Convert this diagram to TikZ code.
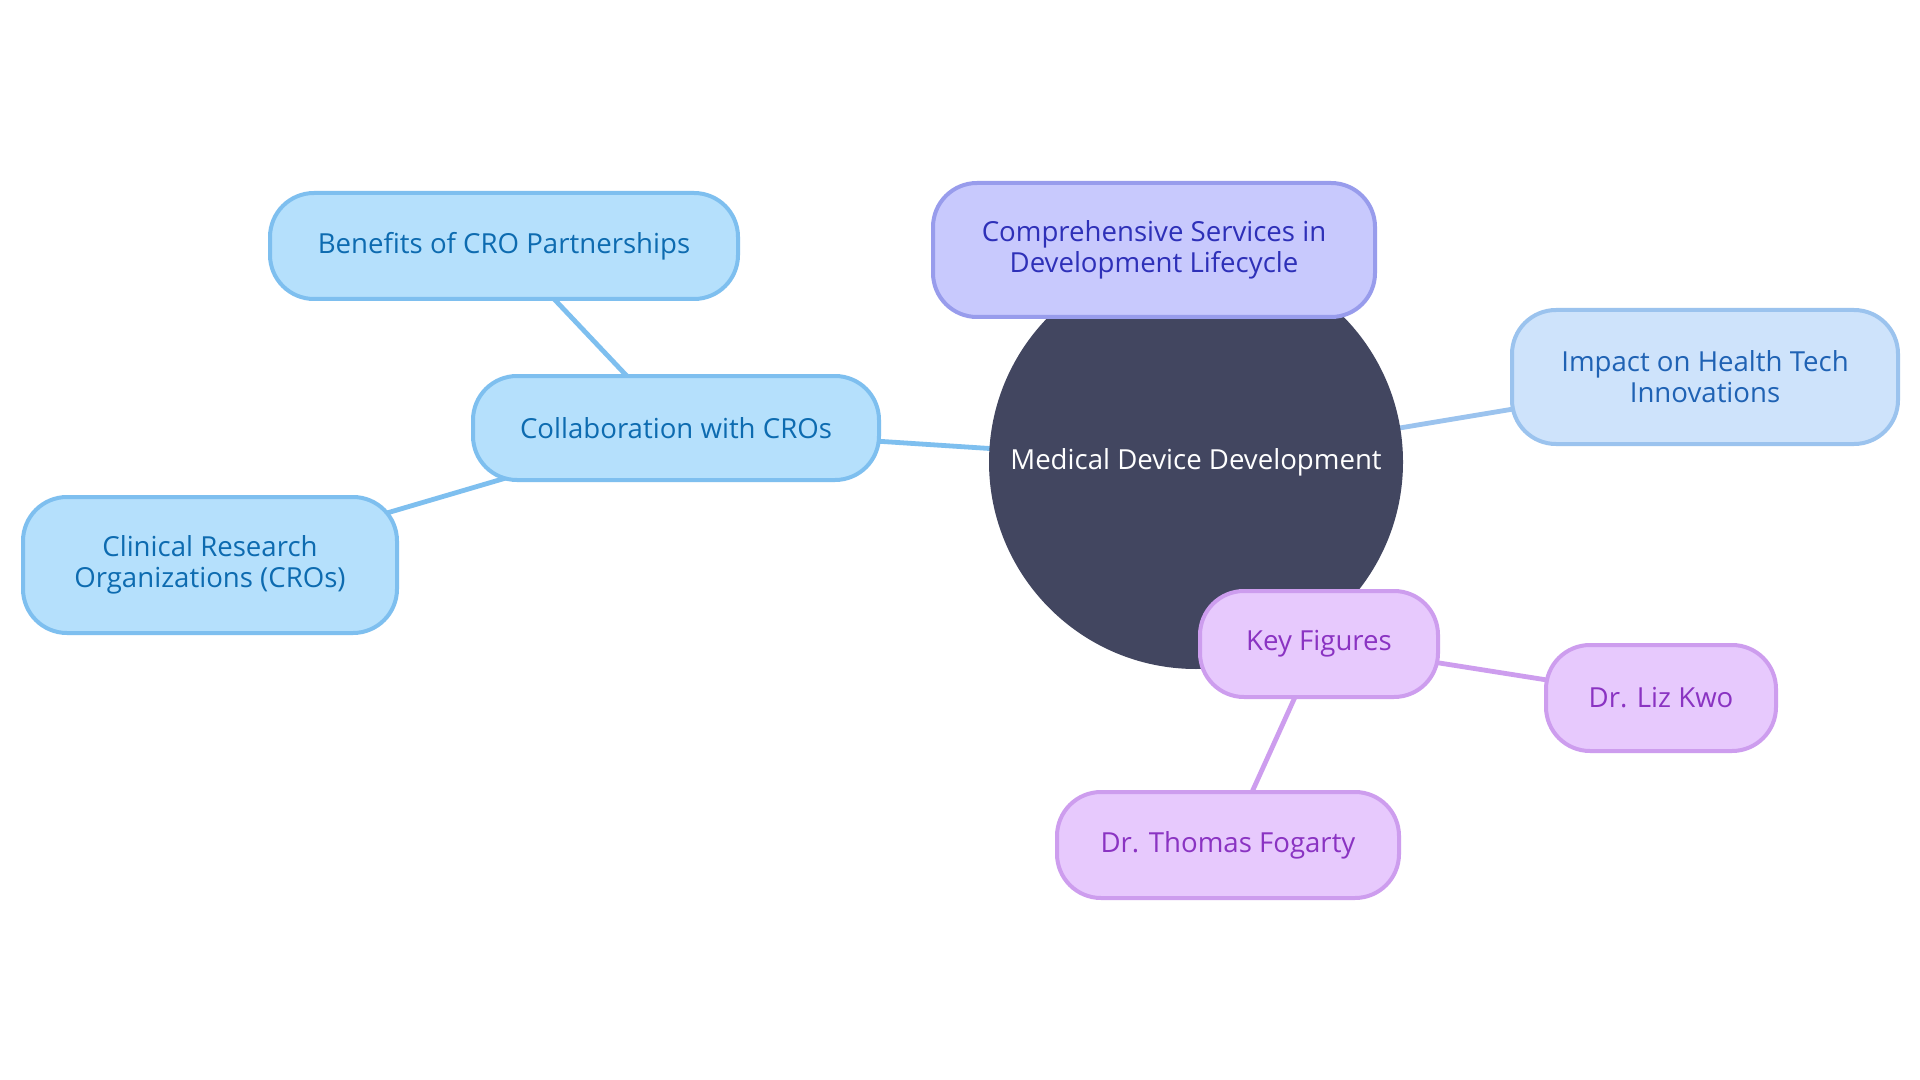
\documentclass[tikz,border=0pt]{standalone}
\usepackage{fontspec}
\setmainfont{Open Sans}
\definecolor{bfill}{HTML}{B5E0FC}
\definecolor{bline}{HTML}{7EBFEF}
\definecolor{btext}{HTML}{0D6BB0}
\definecolor{cfill}{HTML}{C8C9FD}
\definecolor{cline}{HTML}{989CEC}
\definecolor{ctext}{HTML}{2E30B8}
\definecolor{ifill}{HTML}{CEE3FB}
\definecolor{iline}{HTML}{9BC3EE}
\definecolor{itext}{HTML}{1F62B4}
\definecolor{pfill}{HTML}{E7C9FD}
\definecolor{pline}{HTML}{CD9DEE}
\definecolor{ptext}{HTML}{8A33C2}
\definecolor{hub}{HTML}{424660}
\tikzset{
  box/.style={rounded corners=22pt, line width=2pt, align=center,
    font=\fontsize{13.8}{15.4}\selectfont, inner sep=0pt},
  bluebox/.style={box, fill=bfill, draw=bline, text=btext},
  violetbox/.style={box, fill=cfill, draw=cline, text=ctext},
  paleblue/.style={box, fill=ifill, draw=iline, text=itext},
  purplebox/.style={box, fill=pfill, draw=pline, text=ptext},
  link/.style={line width=2.4pt},
}
\begin{document}
\begin{tikzpicture}[x=0.5pt,y=-0.5pt]
\useasboundingbox[fill=white] (0,0) rectangle (1920,1080);
% node positions
\coordinate (pc) at (1196,462);
\coordinate (pcollab) at (676,428);
\coordinate (pben) at (504,246);
\coordinate (pclin) at (210,565);
\coordinate (pcomp) at (1154,250);
\coordinate (pimp) at (1705,377);
\coordinate (pkey) at (1319,644);
\coordinate (pliz) at (1661,698);
\coordinate (pfog) at (1228,845);
% connectors
\draw[link, bline] (pc) -- (pcollab);
\draw[link, bline] (pcollab) -- (pben);
\draw[link, bline] (pcollab) -- (pclin);
\draw[link, iline] (pc) -- (pimp);
\draw[link, cline] (pc) -- (pcomp);
\draw[link, pline] (pc) -- (pkey);
\draw[link, pline] (pkey) -- (pliz);
\draw[link, pline] (pkey) -- (pfog);
% hub
\node[circle, fill=hub, minimum size=207pt, inner sep=0pt, text=white,
  font=\fontsize{13.8}{15.4}\selectfont] (hubnode) at (pc) {Medical Device Development};
% nodes
\node[bluebox, minimum width=203pt, minimum height=52pt] (collab) at (pcollab) {Collaboration with CROs};
\node[bluebox, minimum width=234pt, minimum height=53pt] (ben) at (pben) {Benefits of CRO Partnerships};
\node[bluebox, minimum width=187pt, minimum height=68pt] (clin) at (pclin) {Clinical Research\\Organizations (CROs)};
\node[violetbox, minimum width=221pt, minimum height=67pt] (comp) at (pcomp) {Comprehensive Services in\\Development Lifecycle};
\node[paleblue, minimum width=193pt, minimum height=67pt] (imp) at (pimp) {Impact on Health Tech\\Innovations};
\node[purplebox, minimum width=119pt, minimum height=53pt] (key) at (pkey) {Key Figures};
\node[purplebox, minimum width=115pt, minimum height=53pt] (liz) at (pliz) {Dr. Liz Kwo};
\node[purplebox, minimum width=171pt, minimum height=53pt] (fog) at (pfog) {Dr. Thomas Fogarty};
\end{tikzpicture}
\end{document}
